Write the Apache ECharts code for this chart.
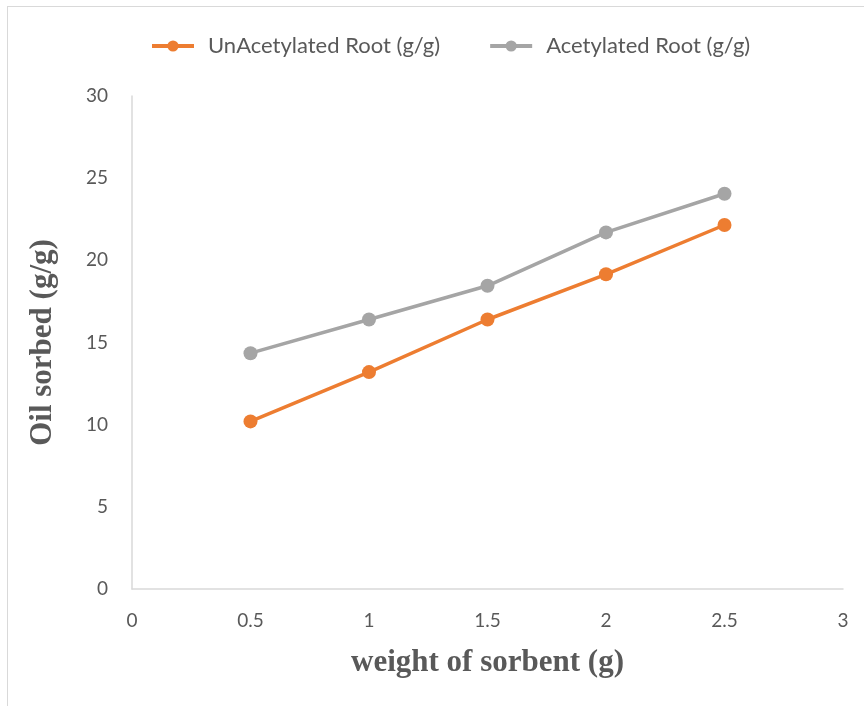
<!DOCTYPE html>
<html><head><meta charset="utf-8">
<script src="https://cdn.jsdelivr.net/npm/echarts@6/dist/echarts.min.js"></script>
<style>
html,body{margin:0;padding:0;background:#fff;}
#frame{position:absolute;left:7px;top:6px;width:900px;height:760px;border-left:1.5px solid #d9d9d9;border-top:1.5px solid #d9d9d9;}
#c{position:absolute;left:0;top:0;width:864px;height:706px;}
</style></head>
<body>
<div id="frame"></div>
<div id="c"></div>
<script>
const weights = [0.5, 1, 1.5, 2, 2.5];
const unacetylated = [10.2, 13.2, 16.4, 19.15, 22.15];
const acetylated = [14.35, 16.4, 18.45, 21.7, 24.05];
const seriesNames = ['UnAcetylated Root (g/g)', 'Acetylated Root (g/g)'];

const chart = echarts.init(document.getElementById('c'));
const pairs = (ys) => weights.map((x, i) => [x, ys[i]]);
chart.setOption({
  animation: false,
  legend: {
    top: 30, left: 145, itemWidth: 42, itemHeight: 14, itemGap: 48,
    lineStyle: { width: 4 },
    textStyle: { fontFamily: 'Lato', fontSize: 22, color: '#595959', padding: [0, 0, 0, 9] },
    data: seriesNames
  },
  grid: { left: 132, right: 21, top: 96, bottom: 117 },
  xAxis: {
    type: 'value', min: 0, max: 3, interval: 0.5,
    name: 'weight of sorbent (g)', nameLocation: 'middle', nameGap: 58,
    nameTextStyle: { fontFamily: 'Liberation Serif', fontWeight: 'bold', fontSize: 31, color: '#595959' },
    axisLine: { lineStyle: { color: '#d9d9d9', width: 1.5 } },
    axisTick: { show: false }, splitLine: { show: false },
    axisLabel: { fontFamily: 'Lato', fontSize: 19, color: '#595959', margin: 22 }
  },
  yAxis: {
    type: 'value', min: 0, max: 30, interval: 5,
    name: 'Oil sorbed (g/g)', nameLocation: 'middle', nameGap: 74,
    nameTextStyle: { fontFamily: 'Liberation Serif', fontWeight: 'bold', fontSize: 31, color: '#595959' },
    axisLine: { show: true, lineStyle: { color: '#d9d9d9', width: 1.5 } },
    axisTick: { show: false }, splitLine: { show: false },
    axisLabel: { fontFamily: 'Lato', fontSize: 19, color: '#595959', margin: 24 }
  },
  series: [
    { name: seriesNames[0], type: 'line', data: pairs(unacetylated), symbol: 'circle', symbolSize: 14,
      lineStyle: { color: '#ed7d31', width: 3.5 }, itemStyle: { color: '#ed7d31' } },
    { name: seriesNames[1], type: 'line', data: pairs(acetylated), symbol: 'circle', symbolSize: 14,
      lineStyle: { color: '#a5a5a5', width: 3.5 }, itemStyle: { color: '#a5a5a5' } }
  ]
});
</script>
</body></html>
